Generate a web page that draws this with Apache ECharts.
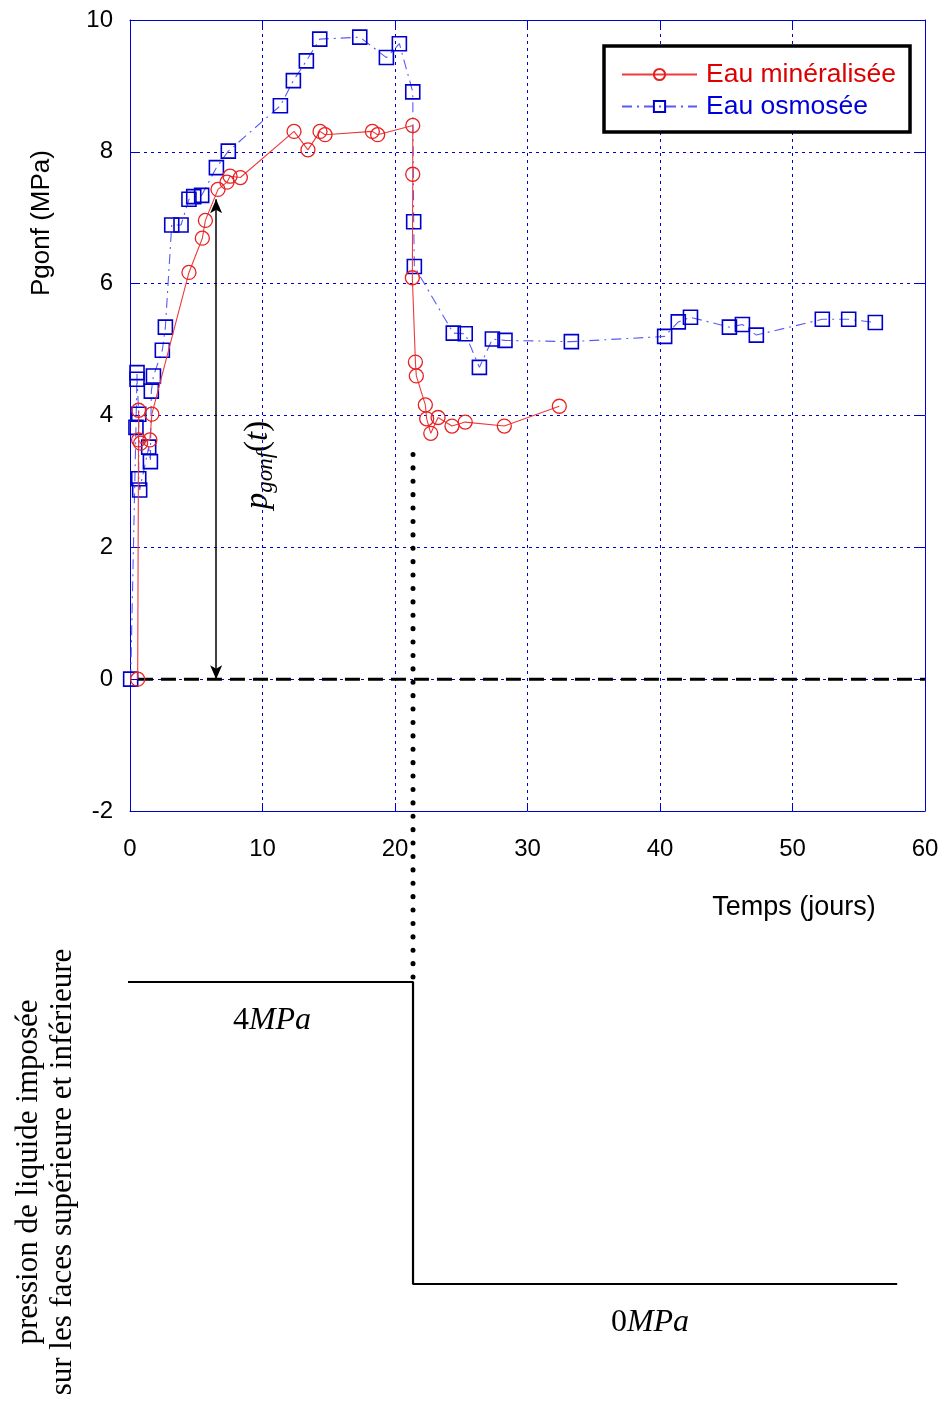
<!DOCTYPE html>
<html><head><meta charset="utf-8">
<script src="https://cdn.jsdelivr.net/npm/echarts@6/dist/echarts.min.js"></script>
<style>html,body{margin:0;padding:0;background:#fff}#c{width:949px;height:1404px}</style>
</head><body><div id="c"></div>
<script>
// ---- data ----
const seriesNames = ['Eau minéralisée', 'Eau osmosée'];
const minTime  = [0.58, 0.65, 0.65, 0.80, 1.50, 1.65, 4.45, 5.46, 5.69, 6.64, 7.32, 7.55, 8.33, 12.38, 13.43, 14.34, 14.72, 18.29, 18.69, 21.34, 21.34, 21.31, 21.54, 21.61, 22.29, 22.39, 22.70, 23.25, 24.30, 25.30, 28.25, 32.40];
const minPgonf = [0.00, 4.08, 3.63, 3.58, 3.63, 4.02, 6.17, 6.69, 6.96, 7.43, 7.54, 7.63, 7.61, 8.31, 8.03, 8.31, 8.26, 8.31, 8.26, 8.40, 7.66, 6.09, 4.81, 4.60, 4.16, 3.95, 3.73, 3.97, 3.84, 3.90, 3.84, 4.14];
const osmTime  = [0.05, 0.45, 0.53, 0.53, 0.66, 0.66, 0.73, 1.41, 1.54, 1.61, 1.77, 2.44, 2.67, 3.15, 3.85, 4.45, 4.81, 5.41, 6.52, 7.42, 11.35, 12.33, 13.31, 14.32, 17.34, 19.35, 20.33, 21.34, 21.41, 21.46, 24.40, 25.30, 26.37, 27.35, 28.30, 33.31, 40.35, 41.38, 42.30, 45.24, 46.22, 47.27, 52.25, 54.24, 56.25];
const osmPgonf = [0.00, 3.82, 4.65, 4.55, 4.02, 3.04, 2.87, 3.52, 3.30, 4.37, 4.60, 4.99, 5.34, 6.89, 6.89, 7.28, 7.32, 7.34, 7.76, 8.01, 8.70, 9.08, 9.38, 9.71, 9.74, 9.43, 9.64, 8.91, 6.94, 6.26, 5.25, 5.24, 4.73, 5.16, 5.14, 5.12, 5.20, 5.42, 5.49, 5.34, 5.38, 5.22, 5.46, 5.46, 5.41];
const xTickRange = [0, 60, 10];   // min, max, interval
const yTickRange = [-2, 10, 2];
const zeroLine = [[0.6, 0], [60, 0]];
const pgonfArrow = [[6.5, 0], [6.5, 7.28]];
const unloadTime = 21.36;
const dottedRange = [3.41, -4.6];
const imposedTime = [-0.4, 21.36, 21.36, 57.9];
const imposedPressure = [4, 4, 0, 0];

const zip = (a, b) => a.map((v, i) => [v, b[i]]);

const chart = echarts.init(document.getElementById('c'));
const blue = '#0000cc';
const axisFont = 'Liberation Sans, Arial, sans-serif';
const serif = 'Liberation Serif, Times New Roman, serif';

const gridLine = {show: true, lineStyle: {color: blue, type: [3, 4], width: 1}};

chart.setOption({
  animation: false,
  backgroundColor: '#fff',
  grid: [
    {left: 130, top: 20, width: 795, height: 791, show: false},
    {left: 130, top: 982, width: 795, height: 302, show: false}
  ],
  xAxis: [
    {gridIndex: 0, type: 'value', min: xTickRange[0], max: xTickRange[1], interval: xTickRange[2], position: 'bottom',
     axisLine: {show: true, onZero: false, lineStyle: {color: blue, width: 1}},
     axisTick: {show: true, inside: true, length: 8, lineStyle: {color: blue}},
     axisLabel: {color: '#000', fontSize: 24, fontFamily: axisFont, margin: 26},
     splitLine: gridLine},
    {gridIndex: 0, type: 'value', min: xTickRange[0], max: xTickRange[1], interval: xTickRange[2], position: 'top',
     axisLine: {show: true, onZero: false, lineStyle: {color: blue, width: 1}},
     axisTick: {show: true, inside: true, length: 8, lineStyle: {color: blue}},
     axisLabel: {show: false}, splitLine: {show: false}},
    {gridIndex: 1, type: 'value', min: xTickRange[0], max: xTickRange[1], show: false}
  ],
  yAxis: [
    {gridIndex: 0, type: 'value', min: yTickRange[0], max: yTickRange[1], interval: yTickRange[2], position: 'left',
     axisLine: {show: true, onZero: false, lineStyle: {color: blue, width: 1}},
     axisTick: {show: true, inside: true, length: 8, lineStyle: {color: blue}},
     axisLabel: {color: '#000', fontSize: 24, fontFamily: axisFont, margin: 17},
     splitLine: gridLine},
    {gridIndex: 0, type: 'value', min: yTickRange[0], max: yTickRange[1], interval: yTickRange[2], position: 'right',
     axisLine: {show: true, onZero: false, lineStyle: {color: blue, width: 1}},
     axisTick: {show: true, inside: true, length: 8, lineStyle: {color: blue}},
     axisLabel: {show: false}, splitLine: {show: false}},
    {gridIndex: 1, type: 'value', min: 0, max: 4, show: false}
  ],
  legend: {
    orient: 'vertical', left: 604, top: 46,
    padding: [15, 14, 12, 17], itemGap: 5,
    itemWidth: 75, itemHeight: 14,
    borderColor: '#000', borderWidth: 3.5, backgroundColor: '#fff',
    textStyle: {fontSize: 26.5, fontFamily: axisFont, padding: [0, 0, 0, 4]},
    data: [
      {name: seriesNames[0], textStyle: {color: '#dd0000'}},
      {name: seriesNames[1], textStyle: {color: '#0000dd'}}
    ]
  },
  series: [
    {name: 'zero', type: 'line', data: zeroLine, symbol: 'none', silent: true, z: 1,
     lineStyle: {color: '#000', width: 3, type: [15, 8]},
     markLine: {silent: true, symbol: ['arrow', 'arrow'], symbolSize: [9, 14], label: {show: false},
       lineStyle: {color: '#000', width: 1.5, type: 'solid'},
       data: [[{coord: pgonfArrow[0]}, {coord: pgonfArrow[1]}]]}},
    {name: seriesNames[1], type: 'line', data: zip(osmTime, osmPgonf),
     symbol: 'rect', symbolSize: 14, z: 3,
     itemStyle: {color: 'rgba(255,255,255,0)', borderColor: blue, borderWidth: 1.6},
     lineStyle: {color: '#5a5af5', width: 1.1, type: [10, 5, 2, 5]}},
    {name: seriesNames[0], type: 'line', data: zip(minTime, minPgonf),
     symbol: 'circle', symbolSize: 14, z: 4,
     itemStyle: {color: 'rgba(255,255,255,0)', borderColor: '#e82020', borderWidth: 1.3},
     lineStyle: {color: '#ee3a3a', width: 1.1}},
    {name: 'unload', type: 'line', data: [[unloadTime, dottedRange[0]], [unloadTime, dottedRange[1]]],
     symbol: 'none', clip: false, silent: true, z: 5,
     lineStyle: {color: '#000', width: 5, type: [0.1, 13.3], cap: 'round'}},
    {name: 'imposed', type: 'line', xAxisIndex: 2, yAxisIndex: 2, data: zip(imposedTime, imposedPressure),
     symbol: 'none', clip: false, silent: true,
     lineStyle: {color: '#000', width: 2.2}}
  ],
  graphic: [
    {type: 'text', x: 42, y: 223, rotation: Math.PI / 2,
     style: {text: 'Pgonf (MPa)', font: '26px ' + axisFont, fill: '#000', align: 'center', verticalAlign: 'middle'}},
    {type: 'text', x: 794, y: 908,
     style: {text: 'Temps (jours)', font: '27px ' + axisFont, fill: '#000', align: 'center', verticalAlign: 'middle'}},
    {type: 'text', x: 258, y: 465, rotation: Math.PI / 2,
     style: {text: '{p|p}{s|gonf}{r|(}{t|t}{r|)}', fill: '#000', align: 'center', verticalAlign: 'middle',
       rich: {
         p: {fontFamily: serif, fontStyle: 'italic', fontSize: 33, fill: '#000'},
         s: {fontFamily: serif, fontStyle: 'italic', fontSize: 23, fill: '#000', padding: [15, 0, 0, 0]},
         r: {fontFamily: serif, fontSize: 33, fill: '#000'},
         t: {fontFamily: serif, fontStyle: 'italic', fontSize: 33, fill: '#000'}
       }}},
    {type: 'text', x: 272, y: 1021,
     style: {text: '{n|4}{i|MPa}', align: 'center', verticalAlign: 'middle',
       rich: {n: {fontFamily: serif, fontSize: 32, fill: '#000'}, i: {fontFamily: serif, fontStyle: 'italic', fontSize: 32, fill: '#000'}}}},
    {type: 'text', x: 650, y: 1323,
     style: {text: '{n|0}{i|MPa}', align: 'center', verticalAlign: 'middle',
       rich: {n: {fontFamily: serif, fontSize: 32, fill: '#000'}, i: {fontFamily: serif, fontStyle: 'italic', fontSize: 32, fill: '#000'}}}},
    {type: 'text', x: 46, y: 1172, rotation: Math.PI / 2,
     style: {text: 'pression de liquide imposée\nsur les faces supérieure et inférieure',
       font: '31px ' + serif, lineHeight: 34, fill: '#000', align: 'center', verticalAlign: 'middle'}}
  ]
});
</script></body></html>
